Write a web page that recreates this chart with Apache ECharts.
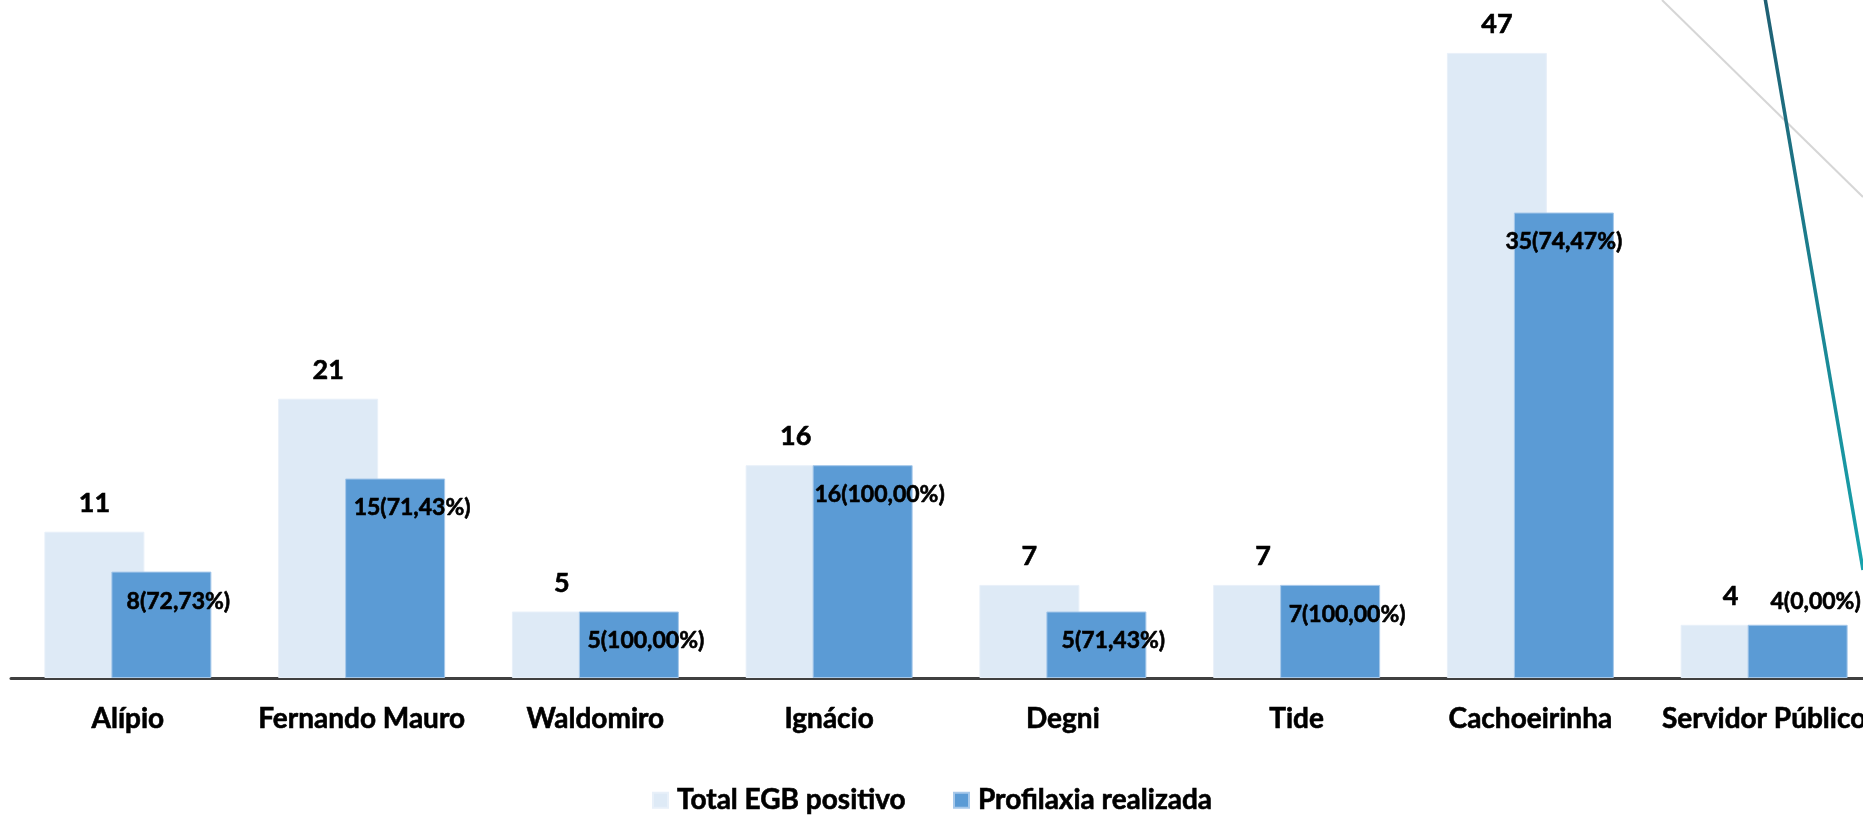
<!DOCTYPE html>
<html>
<head>
<meta charset="utf-8">
<script src="https://cdn.jsdelivr.net/npm/echarts@6/dist/echarts.min.js"></script>
<style>
html,body{margin:0;padding:0;background:#fff;overflow:hidden;}
#wrap{width:1863px;height:815px;overflow:hidden;position:relative;}
#chart{width:1890px;height:815px;position:absolute;left:0;top:0;}
</style>
</head>
<body>
<div id="wrap"><div id="chart"></div></div>
<script>
const categories = ['Alípio', 'Fernando Mauro', 'Waldomiro', 'Ignácio', 'Degni', 'Tide', 'Cachoeirinha', 'Servidor Público'];
const totalEGB = [11, 21, 5, 16, 7, 7, 47, 4];
const profilaxia = [8, 15, 5, 16, 5, 7, 35, 4];
const profilaxiaPct = ['72,73%', '71,43%', '100,00%', '100,00%', '71,43%', '100,00%', '74,47%', '0,00%'];
const seriesNames = ['Total EGB positivo', 'Profilaxia realizada'];

const FONT = 'Lato';
const WEIGHT = 'bold';
const heavy = {textBorderColor: '#000', textBorderWidth: 0.6};
const chart = echarts.init(document.getElementById('chart'), null, {renderer: 'canvas'});

const darkData = profilaxia.map((v, i) => {
  const item = {value: v};
  if (categories[i] === 'Cachoeirinha') {
    item.label = {offset: [0, 0]};
  }
  if (categories[i] === 'Servidor Público') {
    item.label = {position: 'top', distance: 12, offset: [18, 0]};
  }
  return item;
});

chart.setOption({
  animation: false,
  backgroundColor: '#ffffff',
  grid: {left: 11, top: 13, right: 9, bottom: 137, containLabel: false},
  legend: {
    left: 647, top: 781,
    itemWidth: 15, itemHeight: 15, itemGap: 47,
    icon: 'rect',
    textStyle: Object.assign({fontFamily: FONT, fontWeight: WEIGHT, fontSize: 28, color: '#000', padding: [0, 0, 0, 4]}, heavy),
    data: seriesNames
  },
  xAxis: {
    type: 'category',
    data: categories,
    axisLine: {lineStyle: {color: '#404040', width: 3}},
    axisTick: {show: false},
    axisLabel: Object.assign({margin: 27, fontFamily: FONT, fontWeight: WEIGHT, fontSize: 28, color: '#000', interval: 0}, heavy)
  },
  yAxis: {
    type: 'value', min: 0, max: 50, show: false,
    splitLine: {show: false}
  },
  graphic: [
    {type: 'line', shape: {x1: 1662, y1: 0, x2: 1863, y2: 197}, style: {stroke: '#d6d6d6', lineWidth: 2}, z: 10},
    {type: 'line', shape: {x1: 1765, y1: -2, x2: 1863, y2: 570},
     style: {stroke: new echarts.graphic.LinearGradient(0, 0, 0, 1, [{offset: 0, color: '#1f5f73'}, {offset: 1, color: '#17a3ad'}]), lineWidth: 3.5}, z: 10}
  ],
  series: [
    {
      name: seriesNames[0],
      type: 'bar',
      data: totalEGB,
      barWidth: 100,
      barGap: '-33%',
      itemStyle: {color: '#deeaf6', borderColor: '#e8f0f9', borderWidth: 1},
      label: Object.assign({
        show: true, position: 'top', distance: 15,
        fontFamily: FONT, fontWeight: WEIGHT, fontSize: 27, color: '#000'
      }, heavy)
    },
    {
      name: seriesNames[1],
      type: 'bar',
      data: darkData,
      barWidth: 100,
      itemStyle: {color: '#5b9bd5', borderColor: '#a6c8ea', borderWidth: 1},
      label: Object.assign({
        show: true, position: 'insideTop', distance: 18, offset: [17, 0],
        fontFamily: FONT, fontWeight: WEIGHT, fontSize: 23, color: '#000',
        formatter: p => p.value + '(' + profilaxiaPct[p.dataIndex] + ')'
      }, heavy)
    }
  ]
});
</script>
</body>
</html>
